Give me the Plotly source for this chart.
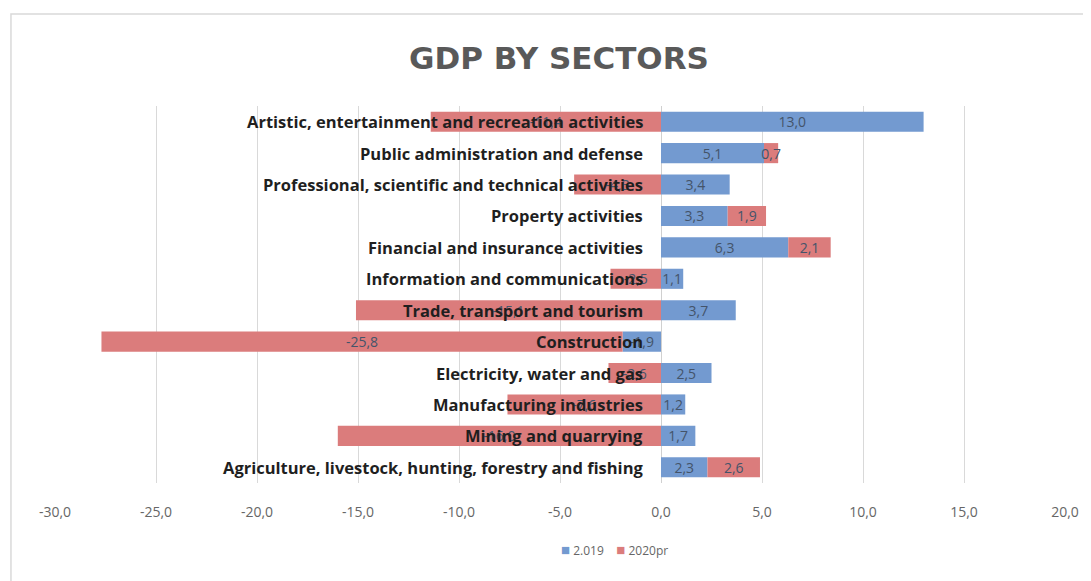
import plotly.graph_objects as go

categories = [
    "Agriculture, livestock, hunting, forestry and fishing",
    "Mining and quarrying",
    "Manufacturing industries",
    "Electricity, water and gas",
    "Construction",
    "Trade, transport and tourism",
    "Information and communications",
    "Financial and insurance activities",
    "Property activities",
    "Professional, scientific and technical activities",
    "Public administration and defense",
    "Artistic, entertainment and recreation activities",
]
values_2019 = [2.3, 1.7, 1.2, 2.5, -1.9, 3.7, 1.1, 6.3, 3.3, 3.4, 5.1, 13.0]
values_2020 = [2.6, -16.0, -7.6, -2.6, -25.8, -15.1, -2.5, 2.1, 1.9, -4.3, 0.7, -11.4]
tick_values = [-30, -25, -20, -15, -10, -5, 0, 5, 10, 15, 20]
tick_text = [("%.1f" % v).replace(".", ",") for v in tick_values]
series_names = ["2.019", "2020pr"]

BLUE = "#739ad0"
RED = "#db7c7c"
LABEL_COLOR = "#44546a"
FONT = "Open Sans"

fig = go.Figure()
for name, vals, col in [(series_names[0], values_2019, BLUE), (series_names[1], values_2020, RED)]:
    fig.add_trace(go.Bar(
        y=categories, x=vals, name=name, orientation="h",
        marker=dict(color=col, line=dict(width=0)),
        texttemplate="%{x:.1f}", textposition="inside",
        insidetextanchor="middle", textangle=0, constraintext="none",
        textfont=dict(family=FONT, size=14, color=LABEL_COLOR),
        showlegend=False,
    ))

for c in categories:
    fig.add_annotation(
        x=0, y=c, xref="x", yref="y", text="<b>%s</b>" % c,
        xanchor="right", yanchor="middle", xshift=-16, showarrow=False,
        font=dict(family=FONT, size=16.5, color="#1f1f1f"),
    )

# legend (compact, Excel-like)
legend_text = ('<span style="color:%s;font-size:15px">■</span> %s    '
               '<span style="color:%s;font-size:15px">■</span> %s') % (BLUE, series_names[0], RED, series_names[1])
fig.add_annotation(x=0.554, y=-0.175, xref="paper", yref="paper",
                   xanchor="center", yanchor="middle", showarrow=False,
                   text=legend_text,
                   font=dict(family=FONT, size=12, color="#666666"))

# chart area border (left/top visible)
fig.add_shape(type="rect", xref="paper", yref="paper",
              x0=-0.0436, x1=1.03, y0=-0.28, y1=1.244,
              line=dict(color="#d9d9d9", width=1.5), fillcolor="rgba(0,0,0,0)",
              layer="below")

fig.update_layout(
    width=1083, height=573,
    margin=dict(l=47, r=26, t=98, b=98),
    paper_bgcolor="white", plot_bgcolor="white",
    barmode="relative", bargap=0.36,
    separators=",.",
    title=dict(text="<b>GDP BY SECTORS</b>", x=551 / 1083, xanchor="center",
               y=1 - 50 / 573, yanchor="middle",
               font=dict(family="DejaVu Sans", size=31, color="#595959")),
    xaxis=dict(range=[-30, 20], tickvals=tick_values, ticktext=tick_text,
               showgrid=True, gridcolor="#d9d9d9", gridwidth=1,
               zeroline=True, zerolinecolor="#d0d0d0", zerolinewidth=1,
               showline=False, ticks="", ticklen=0, ticklabelstandoff=19,
               tickfont=dict(family=FONT, size=14, color="#666666")),
    yaxis=dict(showticklabels=False, showgrid=False, zeroline=False,
               showline=False, ticks="", categoryorder="array",
               categoryarray=categories),
    showlegend=False,
)

fig.write_html("out.html")
